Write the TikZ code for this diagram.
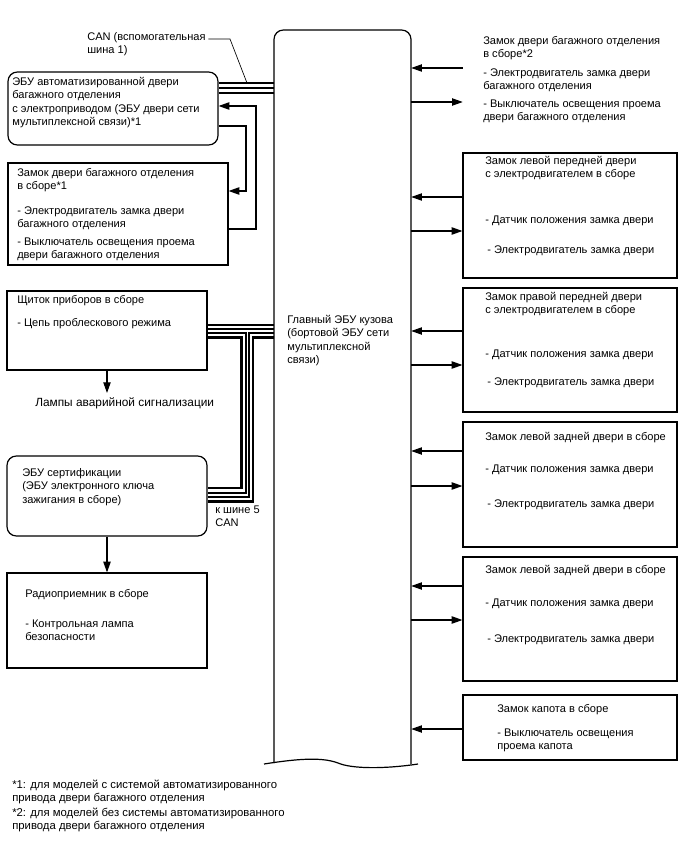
\documentclass[tikz,border=0pt]{standalone}
\usepackage{fontspec}
\setmainfont{Liberation Sans}
\usetikzlibrary{arrows.meta,fit}
\begin{document}
\begin{tikzpicture}[x=0.75pt,y=-0.75pt,
  box/.style={draw, line width=0.9pt, inner sep=0pt},
  rbox/.style={box, rounded corners=7pt},
  txt/.style={anchor=north west, inner sep=0pt, align=left, font=\fontsize{8.3}{10}\selectfont},
  fntxt/.style={txt, font=\fontsize{8.5}{10}\selectfont},
  bigtxt/.style={txt, font=\fontsize{8.9}{10}\selectfont},
  arr/.style={line width=0.8pt, -{Triangle[length=8pt,width=5.5pt]}},
  busA/.style={line width=2.2pt},
  busB/.style={line width=0.8pt}]
\useasboundingbox (0,0) rectangle (688,852);

% central body ECU
\node[inner sep=0pt, fit={(274,30) (411,764)}] (cen) {};
\draw[line width=0.9pt, rounded corners=7pt] (274,763) -- (274,30) -- (411,30) -- (411,764);
\draw[line width=0.9pt] (264,764) .. controls (290,760) and (320,756) .. (338,763) .. controls (352,769) and (385,769) .. (418,764);
\node[txt] (cent) at (287,314) {\strut Главный ЭБУ кузова\\(бортовой ЭБУ сети\\мультиплексной\\связи)};

% left column
\node[rbox, fit={(8,72) (218,145)}] (ecu) {};
\node[txt] (ecut) at (12,76) {\strut ЭБУ автоматизированной двери\\багажного отделения\\с электроприводом (ЭБУ двери сети\\мультиплексной связи)*1};

\node[txt] (canl) at (87,31) {\strut CAN (вспомогательная\\шина 1)};
\coordinate (canp) at (247,83);
\draw[line width=0.5pt] ([xshift=2pt]canl.north east |- 0,39) -- (230,39) -- (canp);

\node[box, fit={(8,163) (228,265)}] (lock1) {};
\node[txt] (l1a) at (17,167) {\strut Замок двери багажного отделения\\в сборе*1};
\node[txt] (l1b) at (17,205) {\strut - Электродвигатель замка двери\\багажного отделения};
\node[txt] (l1c) at (17,236) {\strut - Выключатель освещения проема\\двери багажного отделения};

\draw[arr] (lock1.east |- 0,229) -- (256,229) -- (256,106) -- (ecu.east |- 0,106);
\draw[arr] (ecu.east |- 0,126) -- (246,126) -- (246,191) -- (lock1.east |- 0,191);

\draw[busA] (ecu.east |- 0,83) -- (cen.west |- 0,83);
\draw[busB] (ecu.east |- 0,88) -- (cen.west |- 0,88);
\draw[busB] (ecu.east |- 0,93) -- (cen.west |- 0,93);

\node[box, fit={(7,291) (207,370)}] (inst) {};
\node[txt] (insta) at (17,294) {\strut Щиток приборов в сборе};
\node[txt] (instb) at (17,317) {\strut - Цепь проблескового режима};
\node[bigtxt] (lamps) at (35,397) {\strut Лампы аварийной сигнализации};
\draw[arr] (inst.south) -- (inst.south |- 0,393);

\node[rbox, fit={(7,456) (207,536)}] (cert) {};
\node[txt] (certt) at (22,467) {\strut ЭБУ сертификации\\(ЭБУ электронного ключа\\зажигания в сборе)};
\node[txt] (bus5) at (215,504) {\strut к шине 5\\CAN};

% middle CAN bus with branch
\draw[busA] (inst.east |- 0,325) -- (cen.west |- 0,325);
\draw[busB] (inst.east |- 0,329) -- (cen.west |- 0,329);
\draw[busB] (inst.east |- 0,333) -- (246,333) -- (246,493) -- (cert.east |- 0,493);
\draw[busA] (inst.east |- 0,337.5) -- (241.5,337.5) -- (241.5,488) -- (cert.east |- 0,488);
\draw[busB] (cen.west |- 0,333) -- (249,333) -- (249,497) -- (cert.east |- 0,497);
\draw[busA] (cen.west |- 0,337.5) -- (253,337.5) -- (253,501.5) -- (cert.east |- 0,501.5);

\node[box, fit={(7,573) (207,668)}] (radio) {};
\node[txt] (radioa) at (25,588) {\strut Радиоприемник в сборе};
\node[txt] (radiob) at (25,618) {\strut - Контрольная лампа\\безопасности};
\draw[arr] (cert.south) -- (radio.north);

% right column
\node[txt] (r1a) at (483,35) {\strut Замок двери багажного отделения\\в сборе*2};
\node[txt] (r1b) at (483,67) {\strut - Электродвигатель замка двери\\багажного отделения};
\node[txt] (r1c) at (483,98) {\strut - Выключатель освещения проема\\двери багажного отделения};
\node[inner sep=0pt, fit={(463,30) (677,128)}] (r1) {};

\node[box, fit={(463,153) (677,278)}] (r2) {};
\node[txt] (r2a) at (485,155) {\strut Замок левой передней двери\\с электродвигателем в сборе};
\node[txt] (r2b) at (485,214) {\strut - Датчик положения замка двери};
\node[txt] (r2c) at (487,244) {\strut - Электродвигатель замка двери};

\node[box, fit={(463,288) (677,412)}] (r3) {};
\node[txt] (r3a) at (485,291) {\strut Замок правой передней двери\\с электродвигателем в сборе};
\node[txt] (r3b) at (485,348) {\strut - Датчик положения замка двери};
\node[txt] (r3c) at (487,376) {\strut - Электродвигатель замка двери};

\node[box, fit={(463,422) (677,547)}] (r4) {};
\node[txt] (r4a) at (485,431) {\strut Замок левой задней двери в сборе};
\node[txt] (r4b) at (485,463) {\strut - Датчик положения замка двери};
\node[txt] (r4c) at (487,498) {\strut - Электродвигатель замка двери};

\node[box, fit={(463,557) (677,681)}] (r5) {};
\node[txt] (r5a) at (485,564) {\strut Замок левой задней двери в сборе};
\node[txt] (r5b) at (485,597) {\strut - Датчик положения замка двери};
\node[txt] (r5c) at (487,633) {\strut - Электродвигатель замка двери};

\node[box, fit={(463,695) (677,760)}] (r6) {};
\node[txt] (r6a) at (497,703) {\strut Замок капота в сборе};
\node[txt] (r6b) at (497,727) {\strut - Выключатель освещения\\проема капота};

\draw[arr] (r1.west |- 0,68) -- (cen.east |- 0,68);
\draw[arr] (cen.east |- 0,102) -- (r1.west |- 0,102);
\draw[arr] (r2.west |- 0,197) -- (cen.east |- 0,197);
\draw[arr] (cen.east |- 0,231) -- (r2.west |- 0,231);
\draw[arr] (r3.west |- 0,331) -- (cen.east |- 0,331);
\draw[arr] (cen.east |- 0,365) -- (r3.west |- 0,365);
\draw[arr] (r4.west |- 0,451) -- (cen.east |- 0,451);
\draw[arr] (cen.east |- 0,486) -- (r4.west |- 0,486);
\draw[arr] (r5.west |- 0,586) -- (cen.east |- 0,586);
\draw[arr] (cen.east |- 0,620) -- (r5.west |- 0,620);
\draw[arr] (r6.west |- 0,729) -- (cen.east |- 0,729);

% footnotes
\node[fntxt] (fn1) at (12,779) {\strut *1: для моделей с системой автоматизированного\\привода двери багажного отделения};
\node[fntxt] (fn2) at (12,807) {\strut *2: для моделей без системы автоматизированного\\привода двери багажного отделения};
\end{tikzpicture}
\end{document}
